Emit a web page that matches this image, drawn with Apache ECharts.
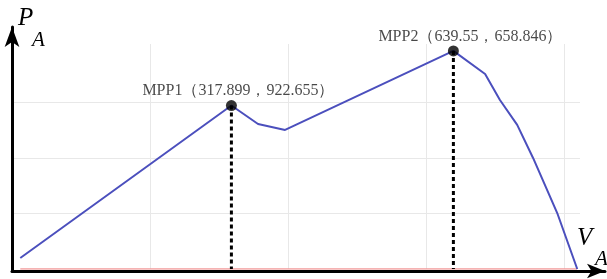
<!DOCTYPE html>
<html>
<head>
<meta charset="utf-8">
<script src="https://cdn.jsdelivr.net/npm/echarts@6/dist/echarts.min.js"></script>
<style>
html, body { margin: 0; padding: 0; background: #fff; }
#pvCurve { width: 607px; height: 279px; }
</style>
</head>
<body>
<div id="pvCurve"></div>
<script>
// P-V curve (V, P)
var curveV = [12, 317.899, 356.5, 395.7, 639.55, 685.5, 707, 732, 755, 790, 819];
var curveP = [49.5, 736, 653, 626, 982, 878, 761, 649, 500, 252, 0];
// red baseline along the V axis
var baseV = [12, 819];
var baseP = [0, 0];
// maximum power points
var mppNames = ['MPP1', 'MPP2'];
var mppV = [317.899, 639.55];
var mppP = [736, 982];
var mppText = ['MPP1\uFF08317.899\uFF0C922.655\uFF09', 'MPP2\uFF08639.55\uFF0C658.846\uFF09'];

var chart = echarts.init(document.getElementById('pvCurve'));

var gridColor = '#e8e8e8';
var none = 'rgba(0,0,0,0)';
var labelShift = [[7, 0], [17, 0]];

var curveData = curveV.map(function (v, i) { return [v, curveP[i]]; });
var baseData = baseV.map(function (v, i) { return [v, baseP[i]]; });

var series = [
  {
    type: 'line',
    data: baseData,
    symbol: 'none',
    lineStyle: { color: '#f29a9a', width: 1.5 },
    z: 2
  },
  {
    type: 'line',
    data: curveData,
    symbol: 'none',
    lineStyle: { color: '#4b4fbd', width: 2 },
    z: 3
  }
];

mppV.forEach(function (v, i) {
  // dashed drop line from the point to the axis
  series.push({
    type: 'line',
    data: [[v, mppP[i]], [v, 0]],
    symbol: 'none',
    lineStyle: { color: '#000', width: 3, type: [4, 3] },
    z: 4
  });
});

series.push({
  type: 'scatter',
  data: mppV.map(function (v, i) {
    return { name: mppNames[i], value: [v, mppP[i]], label: { offset: labelShift[i] } };
  }),
  symbolSize: 11,
  itemStyle: { color: '#000' },
  label: {
    show: true,
    position: 'top',
    distance: 1,
    formatter: function (p) { return mppText[p.dataIndex]; },
    fontFamily: '"Liberation Serif"',
    fontSize: 16,
    color: '#1a1a1a'
  },
  z: 5
});

var options = {
  animation: false,
  grid: [
    { left: 12, right: 27, top: 44, bottom: 10 },
    { left: 12, right: 2, top: 27, bottom: 8 }
  ],
  xAxis: [
    {
      gridIndex: 0,
      type: 'value',
      min: 0,
      max: 823,
      interval: 200,
      axisLine: { show: false },
      axisTick: { show: false },
      axisLabel: { show: false },
      // ticks 0,200,400,600,800,823: hide first and last
      splitLine: { show: true, lineStyle: { color: [none, gridColor, gridColor, gridColor, gridColor, none], width: 1 } }
    },
    {
      gridIndex: 1,
      type: 'value',
      min: 0,
      max: 1,
      axisLine: { show: true, symbol: ['none', 'arrow'], symbolSize: [11, 18], lineStyle: { color: '#000', width: 3 } },
      axisTick: { show: false },
      axisLabel: { show: false },
      splitLine: { show: false }
    }
  ],
  yAxis: [
    {
      gridIndex: 0,
      type: 'value',
      min: 0,
      max: 1013,
      interval: 250,
      axisLine: { show: false },
      axisTick: { show: false },
      axisLabel: { show: false },
      // ticks 0,250,500,750,1000,1013: keep only the middle three
      splitLine: { show: true, lineStyle: { color: [none, gridColor, gridColor, gridColor, none, none], width: 1 } }
    },
    {
      gridIndex: 1,
      type: 'value',
      min: 0,
      max: 1,
      axisLine: { show: true, symbol: ['none', 'arrow'], symbolSize: [11, 20], lineStyle: { color: '#000', width: 3 } },
      axisTick: { show: false },
      axisLabel: { show: false },
      splitLine: { show: false }
    }
  ],
  graphic: [
    { type: 'text', left: 18, top: 6, style: { text: 'P', font: 'italic 25px "Liberation Serif"', fill: '#000' } },
    { type: 'text', left: 32, top: 30, style: { text: 'A', font: 'italic 21px "Liberation Serif"', fill: '#000' } },
    { type: 'text', left: 577, top: 226, style: { text: 'V', font: 'italic 25px "Liberation Serif"', fill: '#000' } },
    { type: 'text', left: 595, top: 249, style: { text: 'A', font: 'italic 21px "Liberation Serif"', fill: '#000' } }
  ],
  series: series
};

chart.setOption(options);
</script>
</body>
</html>
